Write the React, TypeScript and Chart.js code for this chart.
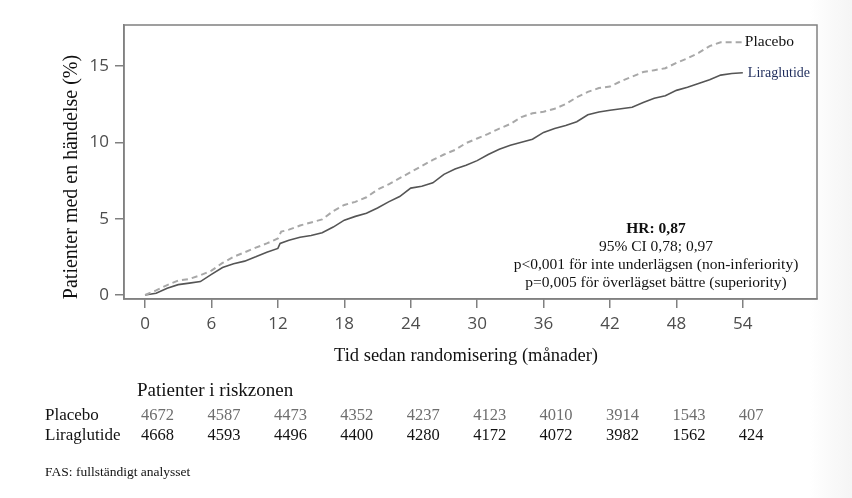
import React, { useEffect, useRef } from "react";
import { Chart, registerables } from "chart.js";

Chart.register(...registerables);

// ---- data ----
const placeboMonths = [0, 1, 2, 3, 4, 5, 6, 7, 8, 9, 10, 11, 12, 12.3, 13, 14, 15, 16, 17, 18, 19, 20, 21, 22, 23, 24, 25, 26, 27, 28, 29, 30, 31, 32, 33, 34, 35, 36, 37, 38, 39, 40, 41, 42, 43, 44, 45, 46, 47, 48, 49, 50, 51, 52, 53, 54];
const placeboPct = [0, 0.3, 0.65, 0.95, 1.05, 1.3, 1.6, 2.1, 2.5, 2.8, 3.1, 3.38, 3.7, 4.15, 4.28, 4.55, 4.75, 4.95, 5.5, 5.9, 6.1, 6.4, 6.9, 7.25, 7.65, 8.05, 8.45, 8.85, 9.2, 9.5, 9.95, 10.25, 10.55, 10.9, 11.2, 11.65, 11.9, 12.0, 12.2, 12.5, 12.95, 13.3, 13.55, 13.65, 14.0, 14.3, 14.6, 14.72, 14.85, 15.2, 15.5, 15.85, 16.3, 16.55, 16.55, 16.55];

const liraMonths = [0, 1, 2, 3, 4, 5, 6, 7, 8, 9, 10, 11, 12, 12.2, 13, 14, 15, 16, 17, 18, 19, 20, 21, 22, 23, 24, 25, 26, 27, 28, 29, 30, 31, 32, 33, 34, 35, 36, 37, 38, 39, 40, 41, 42, 43, 44, 45, 46, 47, 48, 49, 50, 51, 52, 53, 54];
const liraPct = [0, 0.12, 0.45, 0.68, 0.78, 0.88, 1.35, 1.8, 2.05, 2.22, 2.5, 2.8, 3.05, 3.38, 3.58, 3.78, 3.9, 4.08, 4.45, 4.9, 5.15, 5.35, 5.7, 6.1, 6.45, 7.0, 7.12, 7.35, 7.9, 8.25, 8.5, 8.8, 9.2, 9.55, 9.8, 10.0, 10.2, 10.65, 10.9, 11.1, 11.35, 11.8, 11.98, 12.1, 12.2, 12.3, 12.6, 12.88, 13.05, 13.4, 13.6, 13.85, 14.1, 14.4, 14.5, 14.55];

const xTickValues = [0, 6, 12, 18, 24, 30, 36, 42, 48, 54];
const xTickLabels = ["0", "6", "12", "18", "24", "30", "36", "42", "48", "54"];
const yTickValues = [0, 5, 10, 15];
const yTickLabels = ["0", "5", "10", "15"];

const riskMonths = [0, 6, 12, 18, 24, 30, 36, 42, 48, 54];
const riskPlacebo = [4672, 4587, 4473, 4352, 4237, 4123, 4010, 3914, 1543, 407];
const riskLira = [4668, 4593, 4496, 4400, 4280, 4172, 4072, 3982, 1562, 424];

const seriesNames = ["Placebo", "Liraglutide"];
const yTitle = "Patienter med en händelse (%)";
const xTitle = "Tid sedan randomisering (månader)";
const riskTitle = "Patienter i riskzonen";
const statLines = ["HR: 0,87", "95% CI 0,78; 0,97", "p<0,001 för inte underlägsen (non-inferiority)", "p=0,005 för överlägset bättre (superiority)"];
const footnote = "FAS: fullständigt analysset";

const SERIF = '"Liberation Serif", "Times New Roman", serif';
const SANS = '"Open Sans", "Noto Sans", sans-serif';
const AXIS_GRAY = "#808080";

const overlayPlugin = {
  id: "overlay",
  afterDraw(chart: any) {
    const { ctx, chartArea } = chart;
    const xs = chart.scales.x;
    const ys = chart.scales.y;
    ctx.save();
    // frame
    ctx.strokeStyle = AXIS_GRAY;
    ctx.lineWidth = 1.5;
    ctx.strokeRect(chartArea.left, chartArea.top, chartArea.right - chartArea.left, chartArea.bottom - chartArea.top);

    ctx.fillStyle = "#111";
    ctx.textBaseline = "alphabetic";

    // y title
    ctx.save();
    ctx.translate(72, 177);
    ctx.rotate(-Math.PI / 2);
    ctx.font = `20px ${SERIF}`;
    ctx.textAlign = "center";
    ctx.textBaseline = "middle";
    ctx.fillText(yTitle, 0, 0);
    ctx.restore();

    // x title
    ctx.font = `18.5px ${SERIF}`;
    ctx.textAlign = "center";
    ctx.fillText(xTitle, 466, 361);

    // series end labels
    const pEnd = placeboPct[placeboPct.length - 1];
    const lEnd = liraPct[liraPct.length - 1];
    const endX = xs.getPixelForValue(54);
    ctx.textAlign = "left";
    ctx.font = `15.5px ${SERIF}`;
    ctx.fillStyle = "#111";
    ctx.fillText(seriesNames[0], endX + 2, ys.getPixelForValue(pEnd) + 4);
    ctx.font = `14px ${SERIF}`;
    ctx.fillStyle = "#1f2d5c";
    ctx.fillText(seriesNames[1], endX + 5, ys.getPixelForValue(lEnd) + 4);

    // stats annotation
    ctx.fillStyle = "#111";
    ctx.textAlign = "center";
    const sx = 656;
    const baselines = [233, 251, 269, 287];
    statLines.forEach((t, i) => {
      ctx.font = i === 0 ? `bold 15.5px ${SERIF}` : `15.5px ${SERIF}`;
      ctx.fillText(t, sx, baselines[i]);
    });

    // risk table
    ctx.textAlign = "left";
    ctx.font = `19px ${SERIF}`;
    ctx.fillStyle = "#111";
    ctx.fillText(riskTitle, 137, 396);
    ctx.font = `17px ${SERIF}`;
    ctx.fillText(seriesNames[0], 45, 420);
    ctx.fillText(seriesNames[1], 45, 440);
    ctx.font = `16.5px ${SERIF}`;
    riskMonths.forEach((m, i) => {
      const px = xs.getPixelForValue(m) - 4;
      ctx.fillStyle = "#6e6e6e";
      ctx.fillText(String(riskPlacebo[i]), px, 420);
      ctx.fillStyle = "#111";
      ctx.fillText(String(riskLira[i]), px, 440);
    });

    // footnote
    ctx.font = `13.5px ${SERIF}`;
    ctx.fillStyle = "#111";
    ctx.fillText(footnote, 45, 476);
    ctx.restore();
  },
};

export default function App() {
  const canvasRef = useRef<HTMLCanvasElement | null>(null);

  useEffect(() => {
    if (!canvasRef.current) return;
    const chart = new Chart(canvasRef.current, {
      type: "line",
      data: {
        datasets: [
          {
            label: seriesNames[0],
            data: placeboMonths.map((m, i) => ({ x: m, y: placeboPct[i] })),
            borderColor: "#a8a8a8",
            borderWidth: 2,
            borderDash: [6, 4],
            pointRadius: 0,
            tension: 0,
            fill: false,
          },
          {
            label: seriesNames[1],
            data: liraMonths.map((m, i) => ({ x: m, y: liraPct[i] })),
            borderColor: "#555555",
            borderWidth: 1.6,
            pointRadius: 0,
            tension: 0,
            fill: false,
          },
        ],
      },
      options: {
        animation: false,
        responsive: false,
        devicePixelRatio: 1,
        layout: { padding: { top: 25, right: 35, left: 0, bottom: 0 } },
        plugins: { legend: { display: false }, tooltip: { enabled: false }, title: { display: false } },
        scales: {
          x: {
            type: "linear",
            min: -1.9,
            max: 60.7,
            afterBuildTicks: (s: any) => {
              s.ticks = xTickValues.map((v) => ({ value: v }));
            },
            afterFit: (s: any) => {
              s.height = 199;
            },
            ticks: {
              autoSkip: false,
              maxRotation: 0,
              padding: 6,
              color: "#4d4d4d",
              font: { family: SANS, size: 17 },
              callback: (_v: any, i: number) => xTickLabels[i],
            },
            grid: { display: true, drawOnChartArea: false, drawTicks: true, tickLength: 9, color: AXIS_GRAY, lineWidth: 1.5 },
            border: { display: true, color: AXIS_GRAY, width: 1.5 },
          },
          y: {
            type: "linear",
            min: -0.26,
            max: 17.68,
            afterBuildTicks: (s: any) => {
              s.ticks = yTickValues.map((v) => ({ value: v }));
            },
            afterFit: (s: any) => {
              s.width = 124;
            },
            ticks: {
              autoSkip: false,
              padding: 6,
              color: "#4d4d4d",
              font: { family: SANS, size: 17 },
              callback: (_v: any, i: number) => yTickLabels[i],
            },
            grid: { display: true, drawOnChartArea: false, drawTicks: true, tickLength: 9, color: AXIS_GRAY, lineWidth: 1.5 },
            border: { display: true, color: AXIS_GRAY, width: 1.5 },
          },
        },
      },
      plugins: [overlayPlugin],
    } as any);
    return () => chart.destroy();
  }, []);

  return (
    <div style={{ position: "fixed", left: 0, top: 0, width: 852, height: 498, background: "#fff", overflow: "hidden" }}>
      <div
        style={{
          position: "absolute",
          left: 810,
          top: 0,
          width: 42,
          height: 498,
          background: "linear-gradient(to right, #ffffff, #fafafa 45%, #f5f5f5)",
        }}
      />
      <canvas ref={canvasRef} width={852} height={498} style={{ position: "absolute", left: 0, top: 0, width: 852, height: 498 }} />
    </div>
  );
}
